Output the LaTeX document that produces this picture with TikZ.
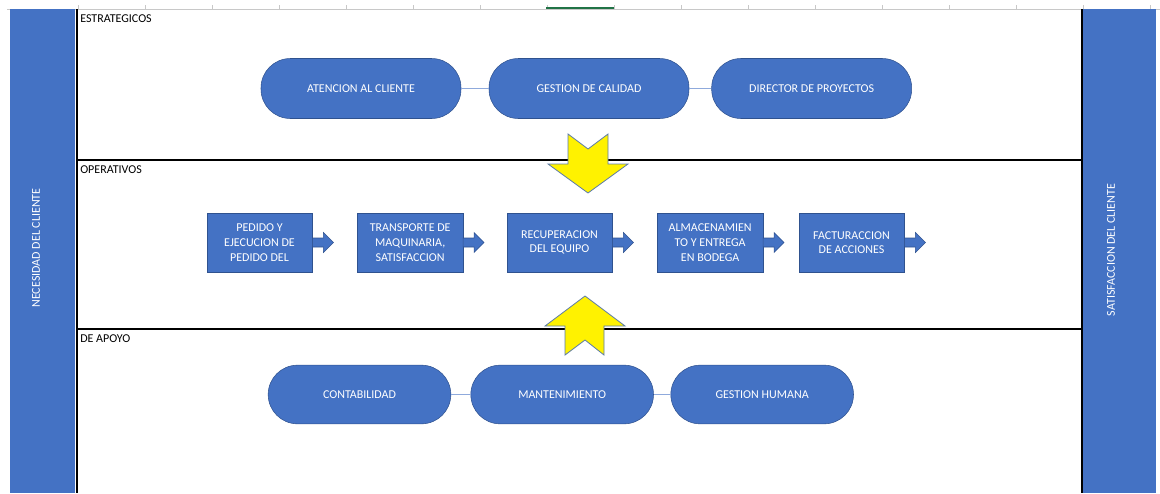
\documentclass[tikz,border=0pt]{standalone}
\usepackage{fontspec}
\setmainfont{Carlito}
\usetikzlibrary{positioning, calc}
\definecolor{officeblue}{RGB}{68,114,196}
\definecolor{edgeblue}{RGB}{47,82,143}
\definecolor{linkblue}{RGB}{143,170,220}
\definecolor{arrowedge}{RGB}{90,122,170}
\definecolor{gridgray}{RGB}{200,200,200}
\definecolor{excelgreen}{RGB}{33,115,70}

\begin{document}
\begin{tikzpicture}[
			x=0.75pt,
			y=-0.75pt,
			on grid,
			font=\fontsize{9}{11}\selectfont,
			pill/.style={
				draw=edgeblue,
				line width=0.4pt,
				fill=officeblue,
				text=white,
				rectangle,
				rounded corners=22pt,
				minimum width=150pt,
				minimum height=45pt
			},
			stepbox/.style={
				draw=edgeblue,
				line width=0.4pt,
				fill=officeblue,
				text=white,
				minimum width=79pt,
				minimum height=44pt,
				align=center,
				inner sep=1pt
			},
			link/.style={draw=linkblue, line width=0.8pt},
			lane/.style={draw=black, line width=1.5pt},
			lanelabel/.style={anchor=base west, inner sep=0pt, text=black},
			sidetext/.style={text=white, rotate=90, inner sep=0pt},
			bigarrow/.style={fill=yellow, draw=arrowedge, line width=0.6pt},
			flowarrow/.style={fill=officeblue, draw=edgeblue, line width=0.4pt}
			]
			\useasboundingbox (0,0) rectangle (1160,493);
			
			% Sheet header
			\draw[gridgray, line width=0.75pt] (7,9) -- (1160,9);
			\foreach \gx in {78,145,...,1150}
				\draw[gridgray, line width=0.6pt] (\gx,9) -- (\gx,5);
			\draw[excelgreen, line width=1.5pt] (546,8) -- (614,8);
			
			% Side bars
			\fill[officeblue] (10,9) rectangle (75,493);
			\fill[officeblue] (1083,9) rectangle (1156,493);
			\draw[lane] (76.5,9) -- (76.5,493);
			\draw[lane] (1082,9) -- (1082,493);
			\node[sidetext] (necesidad) at (36,248) {NECESIDAD DEL CLIENTE};
			\node[sidetext] (satisfaccion) at (1111,250) {SATISFACCION DEL CLIENTE};
			
			% Lanes
			\draw[lane] (77,160) -- (1082,160);
			\draw[lane] (77,329) -- (1082,329);
			\node[lanelabel] (estrategicos) at (80,22.7) {ESTRATEGICOS};
			\node[lanelabel] (operativos) at (80,173.5) {OPERATIVOS};
			\node[lanelabel] (apoyo) at (80,342.7) {DE APOYO};
			
			% Strategic processes
			\node[pill] (atencion) at (361,88.5) {ATENCION AL CLIENTE};
			\node[pill] (calidad) [right=171pt of atencion] {GESTION DE CALIDAD};
			\node[pill] (director) [right=167pt of calidad] {DIRECTOR DE PROYECTOS};
			\draw[link] (atencion) -- (calidad);
			\draw[link] (calidad) -- (director);
			
			% Operative processes
			\node[stepbox] (pedido) at (259.5,242.5) {PEDIDO Y\\EJECUCION DE\\PEDIDO DEL};
			\node[stepbox] (transporte) [right=113pt of pedido] {TRANSPORTE DE\\MAQUINARIA,\\SATISFACCION};
			\node[stepbox] (recuperacion) [right=112pt of transporte] {RECUPERACION\\DEL EQUIPO};
			\node[stepbox] (almacen) [right=113pt of recuperacion] {ALMACENAMIEN\\TO Y ENTREGA\\EN BODEGA};
			\node[stepbox] (factura) [right=106pt of almacen] {FACTURACCION\\DE ACCIONES};
			\foreach \b in {pedido,transporte,recuperacion,almacen,factura}
				\draw[flowarrow] (\b.east) ++(0,-4.5) -- ++(11,0) -- ++(0,-5.5) -- ++(10,10)
					-- ++(-10,10) -- ++(0,-5.5) -- ++(-11,0) -- cycle;
			
			% Support processes
			\node[pill, minimum width=137pt, minimum height=44pt] (contabilidad) at (359.5,394.5) {CONTABILIDAD};
			\node[pill, minimum width=137pt, minimum height=44pt] (mantenimiento) [right=152pt of contabilidad] {MANTENIMIENTO};
			\node[pill, minimum width=137pt, minimum height=44pt] (humana) [right=150pt of mantenimiento] {GESTION HUMANA};
			\draw[link] (contabilidad) -- (mantenimiento);
			\draw[link] (mantenimiento) -- (humana);
			
			% Yellow arrows between lanes
			\draw[bigarrow] (568,134) -- (588,149) -- (608,134) -- (608,164) -- (628,164)
				-- (588,193) -- (548,164) -- (568,164) -- cycle;
			\draw[bigarrow] (585,296) -- (625,326) -- (604,326) -- (604,355) -- (585,340)
				-- (565,355) -- (565,326) -- (545,326) -- cycle;
		\end{tikzpicture}
\end{document}
